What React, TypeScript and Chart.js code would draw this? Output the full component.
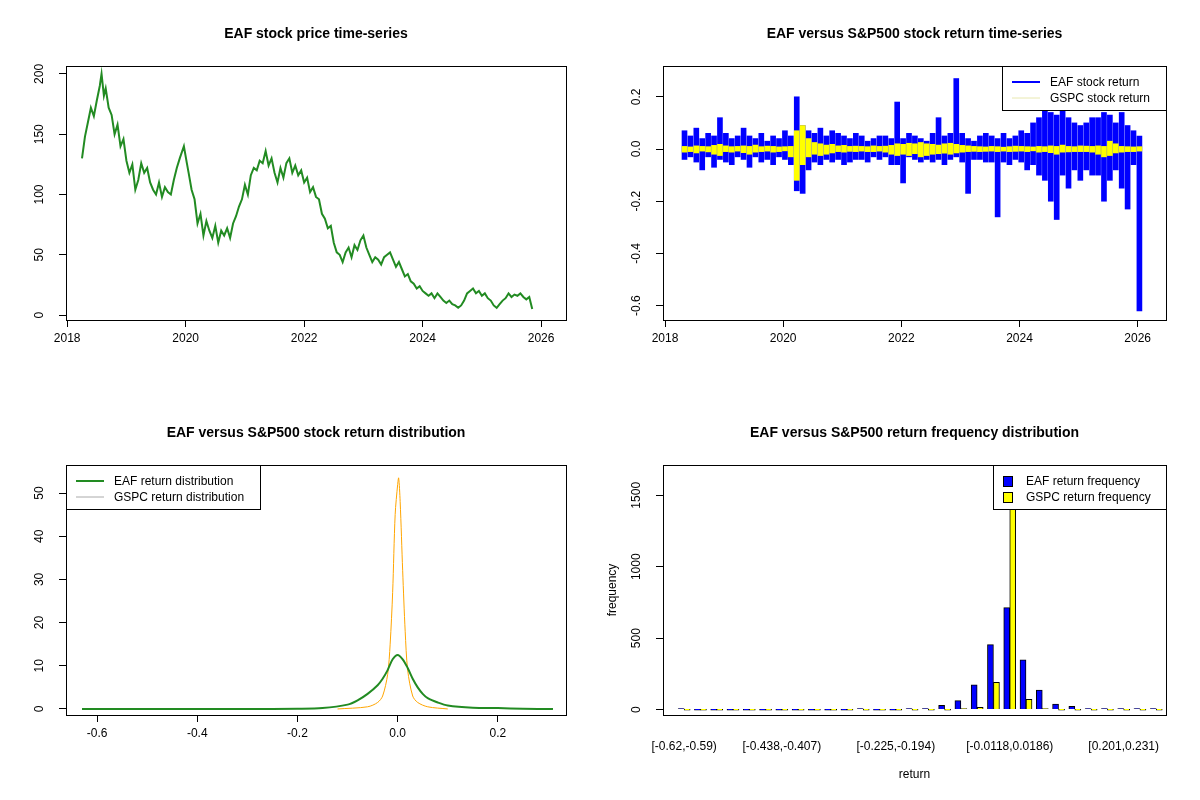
import React, { useEffect, useRef } from "react";
import { Chart, registerables } from "chart.js";
Chart.register(...registerables);

const priceYears = [2018.25,2018.3,2018.35,2018.4,2018.45,2018.5,2018.55,2018.58,2018.62,2018.65,2018.7,2018.75,2018.8,2018.85,2018.9,2018.95,2019.0,2019.05,2019.1,2019.15,2019.2,2019.25,2019.3,2019.35,2019.4,2019.45,2019.5,2019.55,2019.6,2019.65,2019.7,2019.75,2019.8,2019.85,2019.9,2019.97,2020.02,2020.05,2020.1,2020.15,2020.2,2020.25,2020.3,2020.35,2020.4,2020.45,2020.5,2020.55,2020.6,2020.65,2020.7,2020.75,2020.8,2020.85,2020.9,2020.95,2021.0,2021.05,2021.1,2021.15,2021.2,2021.25,2021.3,2021.35,2021.4,2021.45,2021.5,2021.55,2021.6,2021.65,2021.7,2021.75,2021.8,2021.85,2021.9,2021.95,2022.0,2022.05,2022.1,2022.15,2022.2,2022.25,2022.3,2022.35,2022.4,2022.45,2022.5,2022.55,2022.6,2022.65,2022.7,2022.75,2022.8,2022.85,2022.9,2022.95,2023.0,2023.05,2023.1,2023.15,2023.2,2023.25,2023.3,2023.35,2023.4,2023.45,2023.5,2023.55,2023.6,2023.65,2023.7,2023.75,2023.8,2023.85,2023.9,2023.95,2024.0,2024.05,2024.1,2024.15,2024.2,2024.25,2024.3,2024.35,2024.4,2024.45,2024.5,2024.55,2024.6,2024.65,2024.7,2024.75,2024.8,2024.85,2024.9,2024.95,2025.0,2025.05,2025.1,2025.15,2025.2,2025.25,2025.3,2025.35,2025.4,2025.45,2025.5,2025.55,2025.6,2025.65,2025.7,2025.75,2025.8,2025.85,2025.9,2025.95,2026.0,2026.05,2026.08,2026.13];
const priceValues = [130,148,160,172,165,178,190,200,182,188,172,166,150,158,140,146,128,118,125,104,112,126,118,122,110,104,100,110,98,106,102,100,112,122,130,140,126,118,104,96,76,84,66,78,70,64,74,60,70,66,72,64,76,82,90,96,108,100,116,122,120,128,126,136,124,130,118,110,122,114,126,130,118,124,116,120,110,114,102,106,98,96,84,80,72,74,60,52,50,44,52,56,48,58,54,62,66,56,50,44,48,46,42,48,50,52,46,40,44,38,32,34,28,26,22,24,20,18,16,18,14,18,15,12,10,12,9,8,6,8,12,18,20,22,18,20,16,18,14,12,8,6,9,12,14,18,15,17,16,18,15,13,15,5];

const retStart = 2018.33;
const retStep = 0.1;
const eafHigh = [0.07,0.05,0.08,0.04,0.06,0.05,0.12,0.06,0.04,0.05,
0.08,0.05,0.04,0.06,0.03,0.05,0.04,0.07,0.05,0.2,
0.09,0.07,0.06,0.08,0.05,0.07,0.06,0.05,0.04,0.06,
0.05,0.03,0.04,0.05,0.05,0.04,0.18,0.04,0.06,0.05,
0.04,0.03,0.06,0.12,0.05,0.06,0.27,0.06,0.04,0.03,
0.05,0.06,0.05,0.04,0.06,0.04,0.05,0.07,0.06,0.1,
0.12,0.15,0.14,0.13,0.15,0.12,0.1,0.09,0.1,0.12,
0.12,0.14,0.13,0.1,0.14,0.09,0.07,0.05];
const eafLow = [-0.04,-0.03,-0.05,-0.08,-0.03,-0.07,-0.04,-0.05,-0.06,-0.03,
-0.04,-0.07,-0.03,-0.05,-0.04,-0.06,-0.03,-0.04,-0.06,-0.16,
-0.17,-0.08,-0.05,-0.06,-0.04,-0.05,-0.04,-0.06,-0.05,-0.04,
-0.04,-0.05,-0.03,-0.04,-0.03,-0.06,-0.06,-0.13,-0.03,-0.04,
-0.05,-0.04,-0.05,-0.04,-0.06,-0.04,-0.03,-0.05,-0.17,-0.04,
-0.04,-0.05,-0.05,-0.26,-0.05,-0.06,-0.04,-0.05,-0.08,-0.06,
-0.1,-0.12,-0.2,-0.27,-0.1,-0.15,-0.08,-0.12,-0.08,-0.1,
-0.1,-0.2,-0.12,-0.08,-0.15,-0.23,-0.06,-0.62];
const gspcHigh = [0.01,0.008,0.012,0.01,0.009,0.014,0.018,0.012,0.009,0.01,
0.012,0.01,0.015,0.009,0.011,0.01,0.008,0.009,0.01,0.07,
0.09,0.04,0.025,0.02,0.015,0.018,0.012,0.014,0.01,0.011,
0.01,0.009,0.012,0.01,0.011,0.014,0.02,0.018,0.022,0.02,
0.025,0.02,0.018,0.015,0.02,0.022,0.018,0.014,0.012,0.01,
0.009,0.008,0.01,0.009,0.007,0.009,0.011,0.01,0.009,0.008,
0.01,0.009,0.012,0.01,0.015,0.01,0.009,0.012,0.011,0.01,
0.012,0.01,0.03,0.02,0.01,0.009,0.008,0.009];
const gspcLow = [-0.012,-0.01,-0.015,-0.008,-0.011,-0.02,-0.025,-0.01,-0.012,-0.008,
-0.014,-0.02,-0.012,-0.01,-0.008,-0.012,-0.01,-0.007,-0.03,-0.12,
-0.06,-0.03,-0.02,-0.025,-0.02,-0.015,-0.01,-0.012,-0.009,-0.01,
-0.008,-0.01,-0.01,-0.008,-0.012,-0.02,-0.025,-0.02,-0.025,-0.018,
-0.03,-0.025,-0.02,-0.018,-0.016,-0.02,-0.015,-0.012,-0.01,-0.009,
-0.01,-0.009,-0.008,-0.01,-0.008,-0.01,-0.009,-0.008,-0.01,-0.007,
-0.012,-0.01,-0.014,-0.02,-0.012,-0.011,-0.01,-0.01,-0.01,-0.012,
-0.02,-0.03,-0.025,-0.015,-0.012,-0.01,-0.01,-0.008];

const eafDensX = [-0.63,-0.3,-0.2,-0.15,-0.1,-0.08,-0.06,-0.04,-0.03,-0.02,-0.01,0,0.01,0.02,0.03,0.04,0.05,0.06,0.08,0.1,0.15,0.2,0.25,0.31];
const eafDensY = [0,0,0.05,0.2,1,2,3.5,5.5,7,9,11.5,12.5,11.5,9.5,7,5,3.5,2.5,1.5,0.8,0.3,0.2,0.05,0];
const gspcDensX = [-0.12,-0.06,-0.04,-0.03,-0.02,-0.015,-0.01,-0.005,0,0.002,0.005,0.01,0.015,0.02,0.03,0.04,0.06,0.1];
const gspcDensY = [0,0.5,1.5,3,8,15,27,45,52,53.5,48,32,18,9,3,1.5,0.5,0];

const binLabels = ["[-0.62,-0.59)","[-0.59,-0.559)","[-0.559,-0.529)","[-0.529,-0.499)","[-0.499,-0.468)","[-0.468,-0.438)","[-0.438,-0.407)","[-0.407,-0.377)","[-0.377,-0.346)","[-0.346,-0.316)","[-0.316,-0.285)","[-0.285,-0.255)","[-0.255,-0.225)","[-0.225,-0.194)","[-0.194,-0.164)","[-0.164,-0.133)","[-0.133,-0.103)","[-0.103,-0.0725)","[-0.0725,-0.0421)","[-0.0421,-0.0118)","[-0.0118,0.0186)","[0.0186,0.049)","[0.049,0.0793)","[0.0793,0.11)","[0.11,0.14)","[0.14,0.171)","[0.171,0.201)","[0.201,0.231)","[0.231,0.262)","[0.262,0.292)"];
const shownBins = [0, 6, 13, 20, 27];
const eafFreq = [1,0,0,0,0,0,0,0,0,0,0,3,0,0,3,3,29,63,173,455,714,349,137,38,22,3,3,4,1,1];
const gspcFreq = [0,0,0,0,0,0,0,0,0,0,0,0,0,0,0,0,0,1,15,191,1700,72,3,0,0,0,0,0,0,0];

const FONT = "'Liberation Sans', Arial, sans-serif";

type LegendItem = { label: string; color: string; kind: "line" | "box"; width: number };
type Deco = {
  title: string;
  legend: LegendItem[];
  legendPos: "topright" | "topleft";
  legendW: number;
  textOff: number;
  yFmt: (v: number) => string;
  xLabel?: string;
  yLabel?: string;
};

function decoPlugin(d: Deco) {
  return {
    id: "deco",
    afterDatasetsDraw(chart: any) {
      const ctx = chart.ctx;
      const a = chart.chartArea;
      ctx.save();
      ctx.strokeStyle = "#000";
      ctx.lineWidth = 1;
      ctx.strokeRect(Math.round(a.left) + 0.5, Math.round(a.top) + 0.5, Math.round(a.right - a.left), Math.round(a.bottom - a.top));
      ctx.fillStyle = "#000";
      ctx.font = `bold 14px ${FONT}`;
      ctx.textAlign = "center";
      ctx.textBaseline = "middle";
      ctx.fillText(d.title, (a.left + a.right) / 2, a.top - 31.5);
      ctx.font = `12px ${FONT}`;
      const ys = chart.scales.y;
      ys.ticks.forEach((t: any) => {
        const py = ys.getPixelForValue(t.value);
        ctx.save();
        ctx.translate(a.left - 26, py);
        ctx.rotate(-Math.PI / 2);
        ctx.fillText(d.yFmt(t.value), 0, 0);
        ctx.restore();
      });
      if (d.xLabel) ctx.fillText(d.xLabel, (a.left + a.right) / 2, a.bottom + 60);
      if (d.yLabel) {
        ctx.save();
        ctx.translate(a.left - 50, (a.top + a.bottom) / 2);
        ctx.rotate(-Math.PI / 2);
        ctx.fillText(d.yLabel, 0, 0);
        ctx.restore();
      }
      if (d.legend.length) {
        const h = 16 * d.legend.length + 12;
        const lx = d.legendPos === "topright" ? a.right - d.legendW : a.left;
        const ly = a.top;
        ctx.fillStyle = "#fff";
        ctx.fillRect(lx, ly, d.legendW, h);
        ctx.strokeStyle = "#000";
        ctx.lineWidth = 1;
        ctx.strokeRect(Math.round(lx) + 0.5, ly + 0.5, d.legendW, h);
        d.legend.forEach((it, i) => {
          const y = ly + 16 + i * 16;
          if (it.kind === "line") {
            ctx.strokeStyle = it.color;
            ctx.lineWidth = it.width;
            ctx.beginPath();
            ctx.moveTo(lx + 10, y);
            ctx.lineTo(lx + 38, y);
            ctx.stroke();
          } else {
            ctx.fillStyle = it.color;
            ctx.fillRect(lx + 10, y - 5, 9, 10);
            ctx.strokeStyle = "#000";
            ctx.lineWidth = 1;
            ctx.strokeRect(lx + 10.5, y - 4.5, 9, 10);
          }
          ctx.fillStyle = "#000";
          ctx.textAlign = "left";
          ctx.fillText(it.label, lx + d.textOff, y + 1);
        });
      }
      ctx.restore();
    },
  };
}

function axisBase(ticks: number[], min: number, max: number, vertical: boolean, fmt?: (v: number) => string) {
  return {
    type: "linear",
    min,
    max,
    offset: false,
    afterBuildTicks: (s: any) => {
      s.ticks = ticks.map((v) => ({ value: v }));
    },
    grid: { display: true, drawOnChartArea: false, drawTicks: true, tickLength: 7, color: "#000", offset: false },
    border: { display: false },
    ticks: {
      display: !vertical,
      color: "#000",
      font: { family: FONT, size: 12 },
      padding: 4,
      minRotation: 0,
      maxRotation: 0,
      autoSkip: false,
      callback: fmt ? (v: any) => fmt(Number(v)) : (v: any) => String(v),
    },
    afterFit: undefined as any,
  };
}

function Panel({ left, top, build }: { left: number; top: number; build: (c: HTMLCanvasElement) => Chart }) {
  const ref = useRef<HTMLCanvasElement>(null);
  useEffect(() => {
    const ch = build(ref.current!);
    return () => ch.destroy();
  }, []);
  return (
    <div style={{ position: "absolute", left, top, width: 600, height: 400 }}>
      <canvas ref={ref} width={600} height={400} style={{ width: 600, height: 400 }} />
    </div>
  );
}

function commonOpts(padTop: number) {
  return {
    animation: false,
    responsive: false,
    devicePixelRatio: 1,
    layout: { padding: { top: padTop, right: 34, left: 0, bottom: 0 } },
    plugins: { legend: { display: false }, tooltip: { enabled: false }, title: { display: false } },
  };
}

function withFit(axis: any, prop: "width" | "height", val: number) {
  axis.afterFit = (s: any) => {
    s[prop] = val;
  };
  return axis;
}

const yearTicks = [2018, 2020, 2022, 2024, 2026];
const intFmt = (v: number) => String(v);

function buildPrice(c: HTMLCanvasElement) {
  return new Chart(c, {
    type: "line",
    data: {
      datasets: [
        {
          data: priceYears.map((x, i) => ({ x, y: priceValues[i] })),
          borderColor: "#228B22",
          borderWidth: 2,
          pointRadius: 0,
          tension: 0,
        },
      ],
    },
    options: {
      ...commonOpts(66),
      scales: {
        x: withFit(axisBase(yearTicks, 2017.98, 2026.42, false), "height", 80),
        y: withFit(axisBase([0, 50, 100, 150, 200], -4.1, 206.6, true), "width", 66),
      },
    },
    plugins: [decoPlugin({ title: "EAF stock price time-series", legend: [], legendPos: "topright", legendW: 0, textOff: 0, yFmt: intFmt })],
  } as any);
}

function buildReturns(c: HTMLCanvasElement) {
  const xs = eafHigh.map((_, i) => retStart + i * retStep);
  return new Chart(c, {
    type: "bar",
    data: {
      datasets: [
        {
          data: xs.map((x, i) => ({ x, y: [eafLow[i], eafHigh[i]] })),
          backgroundColor: "#0000FF",
          borderWidth: 0,
          barThickness: 5,
          grouped: false,
          order: 2,
        },
        {
          data: xs.map((x, i) => ({ x, y: [gspcLow[i], gspcHigh[i]] })),
          backgroundColor: "#FFFF00",
          borderWidth: 0,
          barThickness: 5,
          grouped: false,
          order: 1,
        },
      ],
    },
    options: {
      ...commonOpts(66),
      scales: {
        x: withFit(axisBase(yearTicks, 2017.966, 2026.48, false), "height", 80),
        y: withFit(axisBase([-0.6, -0.4, -0.2, 0, 0.2], -0.655, 0.318, true), "width", 63),
      },
    },
    plugins: [
      decoPlugin({
        title: "EAF versus S&P500 stock return time-series",
        legend: [
          { label: "EAF stock return", color: "#0000FF", kind: "line", width: 2 },
          { label: "GSPC stock return", color: "#e8e8b0", kind: "line", width: 1 },
        ],
        legendPos: "topright",
        legendW: 164,
        textOff: 48,
        yFmt: (v) => v.toFixed(1),
      }),
    ],
  } as any);
}

function buildDensity(c: HTMLCanvasElement) {
  return new Chart(c, {
    type: "line",
    data: {
      datasets: [
        {
          data: eafDensX.map((x, i) => ({ x, y: eafDensY[i] })),
          borderColor: "#228B22",
          borderWidth: 2,
          pointRadius: 0,
          tension: 0.3,
        },
        {
          data: gspcDensX.map((x, i) => ({ x, y: gspcDensY[i] })),
          borderColor: "#FFA500",
          borderWidth: 1,
          pointRadius: 0,
          tension: 0.3,
        },
      ],
    },
    options: {
      ...commonOpts(65),
      scales: {
        x: withFit(axisBase([-0.6, -0.4, -0.2, 0, 0.2], -0.662, 0.336, false, (v) => (v === 0 ? "0.0" : v.toFixed(1))), "height", 85),
        y: withFit(axisBase([0, 10, 20, 30, 40, 50], -1.4, 56.5, true), "width", 66),
      },
    },
    plugins: [
      decoPlugin({
        title: "EAF versus S&P500 stock return distribution",
        legend: [
          { label: "EAF return distribution", color: "#228B22", kind: "line", width: 2 },
          { label: "GSPC return distribution", color: "#aaaaaa", kind: "line", width: 1 },
        ],
        legendPos: "topleft",
        legendW: 194,
        textOff: 48,
        yFmt: intFmt,
      }),
    ],
  } as any);
}

function buildHist(c: HTMLCanvasElement) {
  const idx = binLabels.map((_, i) => i);
  const x = withFit(axisBase(shownBins, -1.3, 29.6, false, (v) => binLabels[v] ?? ""), "height", 85);
  x.grid.display = false;
  x.ticks.padding = 17;
  return new Chart(c, {
    type: "bar",
    data: {
      datasets: [
        { data: idx.map((i) => ({ x: i, y: eafFreq[i] })), backgroundColor: "#0000FF", borderColor: "#000", borderWidth: 1, barThickness: 6, minBarLength: 1 },
        { data: idx.map((i) => ({ x: i, y: gspcFreq[i] })), backgroundColor: "#FFFF00", borderColor: "#000", borderWidth: 1, barThickness: 6, minBarLength: 1 },
      ],
    },
    options: {
      ...commonOpts(65),
      scales: {
        x,
        y: withFit(axisBase([0, 500, 1000, 1500], -38, 1712, true), "width", 63),
      },
    },
    plugins: [
      decoPlugin({
        title: "EAF versus S&P500 return frequency distribution",
        legend: [
          { label: "EAF return frequency", color: "#0000FF", kind: "box", width: 1 },
          { label: "GSPC return frequency", color: "#FFFF00", kind: "box", width: 1 },
        ],
        legendPos: "topright",
        legendW: 173,
        textOff: 33,
        yFmt: intFmt,
        xLabel: "return",
        yLabel: "frequency",
      }),
    ],
  } as any);
}

export default function App() {
  return (
    <div style={{ position: "absolute", left: 0, top: 0, width: 1200, height: 800, background: "#fff" }}>
      <Panel left={0} top={0} build={buildPrice} />
      <Panel left={600} top={0} build={buildReturns} />
      <Panel left={0} top={400} build={buildDensity} />
      <Panel left={600} top={400} build={buildHist} />
    </div>
  );
}
